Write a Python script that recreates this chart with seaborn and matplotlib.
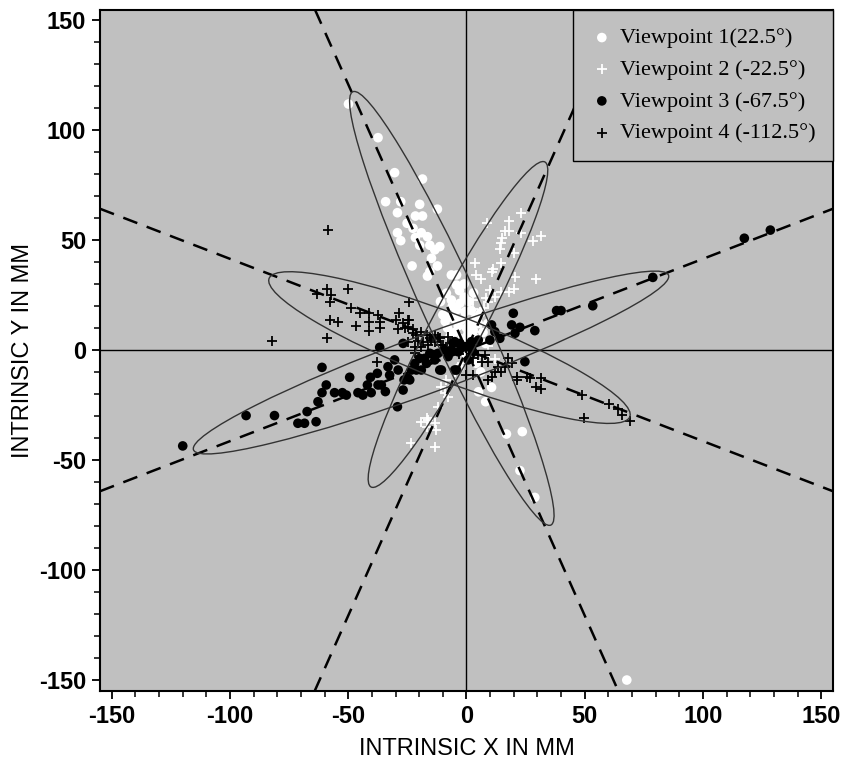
import numpy as np
import pandas as pd
import matplotlib
matplotlib.use('Agg')
import matplotlib.pyplot as plt
from matplotlib.patches import Ellipse
from matplotlib.ticker import MultipleLocator
import seaborn as sns

# viewpoint 1 (22.5 deg) - white dots
vp1_x = [-49.9, -37.4, -30.4, -18.6, -34.2, -27.8, -19.8, -12.3, -29.2, -21.6, -18.6, -25.1, -22.6,
         -29.2, -19.1, -21.6, -16.5, -27.8, -19.8, -15.5, -11.3, -13.4, -14.8, -23.0, -12.3, -15.5,
         -16.5, -6.4, -4.2, -4.2, -8.5, -6.4, -2.8, -4.2, -0.7, -2.1, 1.4, 2.8, -5.0, 0.0, 3.0, -2.0,
         5.0, -8.0, 2.0, 7.0, -4.0, 0.0, 4.0, -3.0, 6.0, -10.0, -1.0, -7.0, 8.0,
         -6.0, -3.0, 1.0, 4.0, -9.0, -5.0, 2.0, -1.0, 6.0, -7.0, 3.0, -3.5, 0.5, 9.0, -11.0,
         5.1, 10.6, 8.1, 16.9, 23.6, 22.6, 28.9, 67.8]
vp1_y = [111.8, 96.5, 80.6, 77.7, 67.4, 67.4, 66.2, 64.0, 62.4, 60.9, 60.9, 57.6, 55.3,
         53.3, 53.3, 51.1, 51.5, 49.7, 47.6, 47.6, 47.0, 45.5, 41.7, 38.2, 38.2, 35.6,
         33.6, 34.1, 34.1, 29.5, 25.8, 22.7, 21.2, 18.2, 17.4, 13.6, 12.1, 9.1, 14.0, 10.0, 6.0, 5.0,
         12.0, 10.0, 18.0, 8.0, 2.0, -3.0, -6.0, -8.0, -10.0, 16.0, 24.0, 6.0, 3.0,
         20.0, 27.0, 22.0, 15.0, 13.0, 8.0, 1.0, 30.0, 17.0, 15.0, 26.0, 11.0, 7.0, 12.0, 22.0,
         -19.0, -17.0, -23.5, -38.2, -37.1, -54.8, -67.0, -150.0]

# viewpoint 2 (-22.5 deg) - white crosses
vp2_x = [23.0, 17.9, 8.8, 16.2, 17.9, 23.0, 15.1, 31.5, 28.3, 14.8, 14.1, 20.2, 3.5, 14.5, 11.3,
         10.6, 4.2, 6.1, 20.5, 29.2, 9.9, 14.8, 17.9, 20.2, 8.1, 12.0, 9.2, 7.5, 2.8, 2.8,
         4.0, 6.0, 1.0, 9.0, 12.0, 8.0, -2.0, -5.0,
         -7.8, -10.6, -8.5, -12.0, -19.1, -16.2, -16.9, -13.4, -12.7, -23.3, -13.4, -16.9, -9.2]
vp2_y = [62.4, 58.8, 57.6, 54.2, 54.2, 53.0, 50.8, 52.0, 49.7, 48.5, 45.8, 44.2, 39.4, 39.4, 36.7,
         35.6, 34.1, 32.1, 33.0, 32.1, 27.3, 26.5, 26.5, 27.6, 23.5, 24.2, 22.0, 18.9, 22.7, 18.5,
         12.0, 8.0, 5.0, 2.0, -4.0, -3.0, -6.0, -10.0,
         -21.2, -16.7, -13.6, -25.8, -32.6, -31.8, -34.8, -33.3, -36.4, -42.1, -43.9, -31.0, -19.7]

# viewpoint 3 (-67.5 deg) - black dots
vp3_x = [-120.0, -93.2, -81.2, -71.3, -68.5, -67.4, -63.6, -62.8, -61.1, -61.1, -59.3, -55.8, -52.5,
         -50.8, -49.4, -45.9, -43.8, -41.9, -40.3, -40.6, -37.7, -37.4, -36.0, -34.3, -33.2, -32.5,
         -30.4, -28.9, -26.4, -24.0, -26.8, -36.7, -29.2, -23.3, -21.9, -19.8, -19.1, -16.9, -15.5,
         -13.4, -11.3, -9.2, -7.8, -5.6, -3.5, -4.2, -0.7, 2.1, 2.5, -24.7, -26.8, -21.2, -17.7,
         -12.0, -10.6, -5.0, 0.7, -6.4, -2.8, -5.0,
         53.4, 38.1, 40.0, 28.9, 19.8, 19.1, 22.6, 20.5, 10.6, 12.0, 14.1, 9.9, 24.7, 5.0, 2.1,
         78.8, 117.5, 128.5]
vp3_y = [-43.6, -29.8, -29.8, -33.3, -33.3, -28.0, -32.6, -23.5, -19.4, -7.9, -15.9, -19.4, -19.4,
         -20.5, -12.4, -19.4, -20.5, -15.9, -19.4, -12.4, -10.6, -15.9, -15.9, -18.9, -7.6, -11.4,
         -4.5, -9.1, -13.6, -13.6, 3.0, 1.2, -25.8, -9.1, -6.1, -3.8, -9.1, -6.1, -1.5,
         -4.5, -9.1, 0.0, -3.0, 3.0, -0.8, -9.1, 1.5, 3.8, -0.5, -12.9, -18.2, -9.1, -3.8,
         -1.5, -9.1, -9.1, -4.5, 0.0, 3.0, 3.8,
         20.1, 17.9, 17.9, 8.8, 16.7, 11.4, 10.3, 7.6, 11.4, 8.3, 5.3, 4.5, -5.3, 4.5, 1.5,
         33.0, 50.8, 54.5]

# viewpoint 4 (-112.5 deg) - black crosses
vp4_x = [-82.3, -58.5, -58.9, -63.1, -57.9, -57.2, -49.9, -49.0, -45.2, -41.2, -57.9, -54.4, -58.9,
         -46.6, -41.4, -41.4, -36.7, -36.7, -37.4, -29.7, -28.5, -26.8, -26.1, -29.0, -24.4, -24.4,
         -22.6, -21.2, -19.1, -16.9, -20.5, -18.3, -24.7, -21.9, -15.5, -13.4, -13.4, -11.3, -10.6,
         -7.8, -7.1, -16.2, -19.1, -37.7, -24.7, -22.6, -14.8, -12.0, -9.9, -21.9, -24.7,
         25.4, 26.8, 31.5, 29.2, 31.5, 21.2, 21.2, 48.7, 49.9, 60.3, 64.0, 65.7, 69.2, 17.7, 19.1,
         16.2, 13.4, 14.8, 12.0, 10.6, 9.2, 6.4, 5.0, 7.8, 2.8, 0.0, 2.8, 8.9, -3.0, 0.0, 3.0]
vp4_y = [4.1, 54.5, 27.6, 25.3, 21.7, 25.0, 27.6, 19.0, 16.7, 16.7, 13.6, 12.6, 5.3,
         11.1, 12.6, 8.6, 12.9, 9.8, 15.9, 13.6, 16.7, 12.1, 9.8, 9.5, 21.7, 13.6,
         9.4, 6.8, 8.3, 6.8, 4.2, 3.8, 3.8, 1.2, 5.3, 6.8, 3.8, 5.3, 2.3,
         6.1, 3.0, 2.3, 1.2, -5.3, 10.6, 7.6, 4.5, 6.1, 2.3, -1.5, 13.6,
         -12.4, -12.9, -12.9, -17.0, -17.9, -12.1, -13.6, -20.5, -31.0, -24.5, -26.7, -29.5, -32.1, -3.8, -6.1,
         -7.6, -7.6, -9.8, -9.8, -12.1, -5.3, -5.3, -2.3, -2.3, -3.8, -11.4, -11.4, -13.6, -2.0, 1.0, -1.0]

labels = ['Viewpoint 1(22.5°)', 'Viewpoint 2 (-22.5°)', 'Viewpoint 3 (-67.5°)', 'Viewpoint 4 (-112.5°)']

# dashed axes of the four viewpoints (degrees)
line_angles = [22.5, -22.5, 67.5, -67.5]

# fitted ellipses: centre, full length, full width, angle
ell_cx = [-6.2, -3.6, -15.0, -7.2]
ell_cy = [18.9, 11.6, -5.7, 1.1]
ell_len = [214, 165, 216, 165]
ell_wid = [24, 22, 26, 30]
ell_ang = [113, 63.6, 21.6, -22.5]

df = pd.concat([
    pd.DataFrame({'x': vp1_x, 'y': vp1_y, 'vp': labels[0]}),
    pd.DataFrame({'x': vp2_x, 'y': vp2_y, 'vp': labels[1]}),
    pd.DataFrame({'x': vp3_x, 'y': vp3_y, 'vp': labels[2]}),
    pd.DataFrame({'x': vp4_x, 'y': vp4_y, 'vp': labels[3]}),
])

sns.set_style('ticks')
plt.rcParams['font.family'] = ['Liberation Sans Narrow', 'Liberation Sans', 'DejaVu Sans']
plt.rcParams['axes.unicode_minus'] = False
for k in ['text.color', 'axes.labelcolor', 'xtick.color', 'ytick.color']:
    plt.rcParams[k] = 'black'

fig = plt.figure(figsize=(8.45, 7.74), dpi=100)
ax = fig.add_axes([0.1183, 0.1072, 0.8675, 0.8798])
ax.set_facecolor('#c0c0c0')

styles = [('o', 'white', 48), ('+', 'white', 60), ('o', 'black', 48), ('+', 'black', 60)]
for lab, (m, c, s) in zip(labels, styles):
    sub = df[df['vp'] == lab]
    if m == 'o':
        sns.scatterplot(data=sub, x='x', y='y', marker=m, color=c, s=s, edgecolor='none',
                        label=lab, ax=ax, zorder=3)
    else:
        sns.scatterplot(data=sub, x='x', y='y', marker=m, color=c, s=s, linewidth=1.3,
                        label=lab, ax=ax, zorder=3)

# zero lines, viewpoint axes and ellipses on top of the points
ax.axhline(0, color='black', lw=1, zorder=4)
ax.axvline(0, color='black', lw=1, zorder=4)
for a in line_angles:
    ax.axline((0, 0), slope=np.tan(np.radians(a)), color='black', lw=1.8,
              linestyle=(0, (6, 4)), zorder=5)

for cx, cy, L, W, A in zip(ell_cx, ell_cy, ell_len, ell_wid, ell_ang):
    ax.add_patch(Ellipse((cx, cy), L, W, angle=A, fill=False, edgecolor='#333333', lw=1, zorder=5))

ax.set_xlim(-155, 155)
ax.set_ylim(-155, 154.5)
ax.xaxis.set_major_locator(MultipleLocator(50))
ax.yaxis.set_major_locator(MultipleLocator(50))
ax.xaxis.set_minor_locator(MultipleLocator(10))
ax.yaxis.set_minor_locator(MultipleLocator(10))
ax.tick_params(which='major', direction='out', length=6, width=1.3, labelsize=17, pad=4)
ax.tick_params(which='minor', direction='out', length=4, width=1.1)
for t in ax.get_xticklabels() + ax.get_yticklabels():
    t.set_fontweight('bold')
for sp in ax.spines.values():
    sp.set_linewidth(1.5)
    sp.set_color('black')

ax.set_xlabel('INTRINSIC X IN MM', fontsize=17, labelpad=7)
ax.set_ylabel('INTRINSIC Y IN MM', fontsize=17)
ax.yaxis.set_label_coords(-0.09, 0.5)

leg = ax.legend(loc='upper right', borderaxespad=0, fancybox=False, framealpha=1,
                facecolor='#c0c0c0', edgecolor='black', labelspacing=0.5,
                handletextpad=0.3, handlelength=1.0, borderpad=0.8,
                prop={'family': 'Liberation Serif', 'size': 16})
leg.get_frame().set_linewidth(1.0)

fig.savefig('out.png', dpi=100)
